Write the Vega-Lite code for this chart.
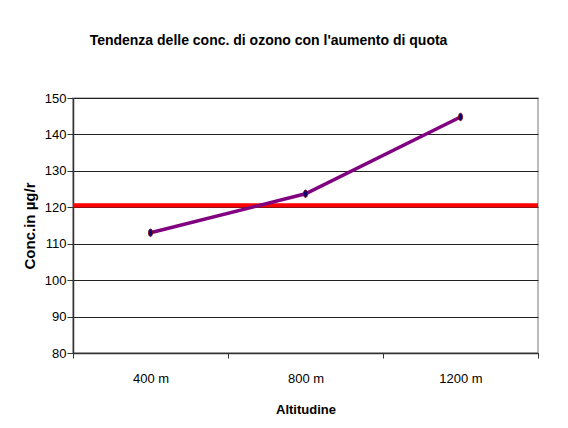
{
  "$schema": "https://vega.github.io/schema/vega-lite/v6.json",
  "width": 465,
  "height": 255,
  "autosize": {"type": "none"},
  "padding": {"left": 73, "top": 98, "right": 30, "bottom": 75},
  "background": "white",
  "title": {
    "text": "Tendenza delle conc. di ozono con l'aumento di quota",
    "font": "Liberation Sans",
    "fontSize": 14,
    "fontWeight": "bold",
    "color": "#000",
    "anchor": "middle",
    "frame": "group",
    "dx": -37,
    "baseline": "alphabetic",
    "offset": 33
  },
  "data": {
    "values": [
      {"quota": "400 m", "conc": 113.0, "limite": 120.5},
      {"quota": "800 m", "conc": 123.7, "limite": 120.5},
      {"quota": "1200 m", "conc": 144.8, "limite": 120.5}
    ]
  },
  "config": {
    "view": {"stroke": "#a6a6a6", "strokeWidth": 1.5},
    "axis": {
      "labelFont": "Liberation Sans",
      "labelFontSize": 13,
      "labelColor": "#000",
      "titleFont": "Liberation Sans",
      "titleColor": "#000",
      "titleFontWeight": "bold",
      "domainColor": "#333",
      "tickColor": "#333",
      "gridColor": "#222",
      "gridOpacity": 1
    }
  },
  "layer": [
    {
      "mark": {"type": "rule", "color": "#ff0000", "strokeWidth": 4.3},
      "encoding": {
        "y": {
          "field": "limite", "aggregate": "mean", "type": "quantitative",
          "scale": {"domain": [80, 150], "nice": false, "zero": false},
          "axis": {
            "title": "Conc.in  µg/r", "titleFontSize": 15,
            "values": [80, 90, 100, 110, 120, 130, 140, 150], "tickCount": 8,
            "tickSize": 6, "labelPadding": 1, "titlePadding": 7,
            "grid": true, "gridWidth": 1, "domainWidth": 1.5
          }
        }
      }
    },
    {
      "mark": {"type": "line", "color": "#800080", "strokeWidth": 3.5},
      "encoding": {
        "x": {
          "field": "quota", "type": "nominal", "sort": null,
          "scale": {"type": "band", "paddingInner": 0, "paddingOuter": 0},
          "axis": {
            "title": "Altitudine", "titleFontSize": 13, "titlePadding": 18,
            "labelAngle": 0, "tickBand": "extent", "grid": false,
            "tickSize": 5, "labelPadding": 14, "domainWidth": 1.5
          }
        },
        "y": {
          "field": "conc", "type": "quantitative",
          "scale": {"domain": [80, 150], "nice": false, "zero": false},
          "axis": {
            "title": "Conc.in  µg/r", "titleFontSize": 15,
            "values": [80, 90, 100, 110, 120, 130, 140, 150], "tickCount": 8,
            "tickSize": 6, "labelPadding": 1, "titlePadding": 7,
            "grid": true, "gridWidth": 1, "domainWidth": 1.5
          }
        }
      }
    },
    {
      "mark": {
        "type": "point", "filled": true, "fill": "#000080", "stroke": "#800000",
        "strokeWidth": 1, "opacity": 1, "size": 55,
        "shape": "M0,-1 C0.7,-1 0.7,1 0,1 C-0.7,1 -0.7,-1 0,-1 Z"
      },
      "encoding": {
        "x": {"field": "quota", "type": "nominal", "sort": null},
        "y": {"field": "conc", "type": "quantitative"}
      }
    }
  ]
}
